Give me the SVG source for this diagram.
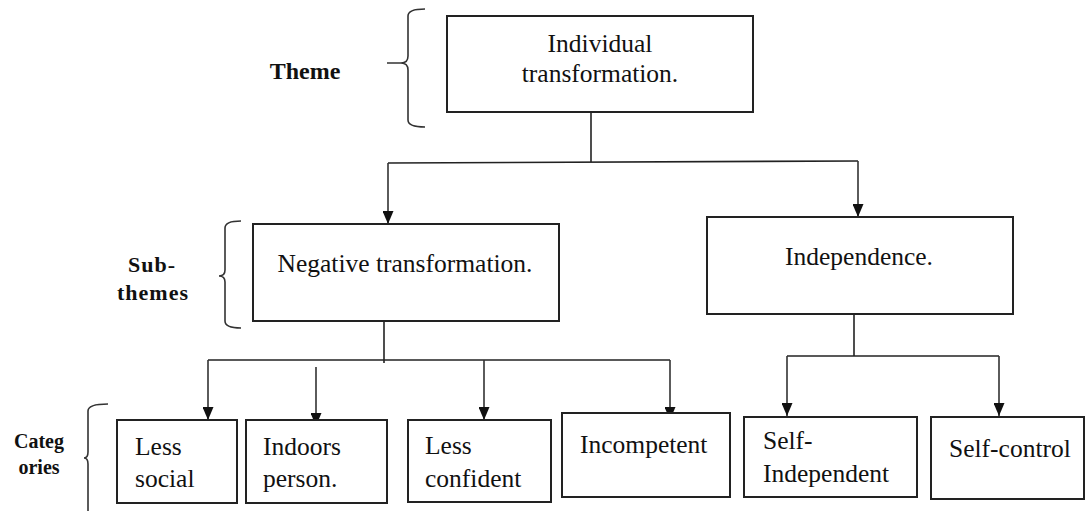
<svg xmlns="http://www.w3.org/2000/svg" width="1086" height="511" viewBox="0 0 1086 511">
<style>
.box{fill:#fff;stroke:#222;stroke-width:2}
.t{font-size:25.5px;fill:#111}
.c{text-anchor:middle}
.lbl{font-weight:bold;fill:#111;text-anchor:middle}
.ln{fill:none;stroke:#222;stroke-width:1.6}
.ar{fill:none;stroke:#333;stroke-width:1.6;marker-end:url(#ah)}
.br{fill:none;stroke:#333;stroke-width:1.6}
</style>
<defs>
<marker id="ah" markerUnits="userSpaceOnUse" markerWidth="13" markerHeight="11" viewBox="0 0 13 11" refX="13" refY="5.5" orient="auto">
<path d="M0,0 L13,5.5 L0,11 Z" fill="#111"/>
</marker>
</defs>

<g id="labels" font-family="'Liberation Serif', 'Times New Roman', Tinos, serif">
<text class="lbl" x="305" y="79" font-size="24">Theme</text>
<text class="lbl" x="152" y="272" font-size="22" letter-spacing="1">Sub-</text>
<text class="lbl" x="153" y="300" font-size="22" letter-spacing="1">themes</text>
<text class="lbl" x="39" y="448" font-size="20">Categ</text>
<text class="lbl" x="39" y="474" font-size="20">ories</text>
<path class="br" d="M425,9 Q408,9 408,16 L408,56 Q408,63 401,63 M387,63 L401,63 Q408,63 408,70 L408,120 Q408,127 425,127"/>
<path class="br" d="M241,221 Q225,221 225,228 L225,270 Q225,276 219,276 Q225,276 225,282 L225,321 Q225,328 241,328"/>
<path class="br" d="M108,404 Q88,404 88,411 L88,452 Q88,458 84,458 Q88,458 88,464 L88,511"/>
</g>

<g id="connectors">
<path class="ln" d="M591,112 V162"/>
<path class="ln" d="M388,163 L858,161"/>
<path class="ar" d="M388,163 V224"/>
<path class="ar" d="M858,161 V217"/>
<path class="ln" d="M384,321 V363"/>
<path class="ln" d="M208,360 H670"/>
<path class="ar" d="M208,360 V420"/>
<path class="ar" d="M316,367 V426"/>
<path class="ar" d="M484,360 V420"/>
<path class="ar" d="M670,360 V420"/>
<path class="ln" d="M854,314 V356"/>
<path class="ln" d="M787,356 H999"/>
<path class="ar" d="M787,356 V416"/>
<path class="ar" d="M999,356 V416"/>
</g>

<g id="nodes" font-family="'Liberation Serif', 'Times New Roman', Tinos, serif">
<g id="n-theme">
<rect class="box" x="447" y="16" width="306" height="96"/>
<text class="t c" x="600" y="52">Individual</text>
<text class="t c" x="600" y="82">transformation.</text>
</g>
<g id="n-negative">
<rect class="box" x="253" y="224" width="306" height="97"/>
<text class="t c" x="405" y="272">Negative transformation.</text>
</g>
<g id="n-independence">
<rect class="box" x="707" y="217" width="306" height="97"/>
<text class="t c" x="859" y="265">Independence.</text>
</g>
<g id="n-less-social">
<rect class="box" x="117" y="420" width="120" height="83"/>
<text class="t" x="135" y="455">Less</text>
<text class="t" x="135" y="487">social</text>
</g>
<g id="n-indoors">
<rect class="box" x="246" y="420" width="141" height="83"/>
<text class="t" x="263" y="455">Indoors</text>
<text class="t" x="263" y="487">person.</text>
</g>
<g id="n-less-confident">
<rect class="box" x="408" y="420" width="143" height="82"/>
<text class="t" x="425" y="454">Less</text>
<text class="t" x="425" y="487">confident</text>
</g>
<g id="n-incompetent">
<rect class="box" x="562" y="413" width="168" height="84"/>
<text class="t" x="580" y="453">Incompetent</text>
</g>
<g id="n-self-independent">
<rect class="box" x="744" y="417" width="173" height="80"/>
<text class="t" x="763" y="449">Self-</text>
<text class="t" x="763" y="482">Independent</text>
</g>
<g id="n-self-control">
<rect class="box" x="931" y="417" width="153" height="82"/>
<text class="t" x="949" y="457">Self-control</text>
</g>
</g>
</svg>
